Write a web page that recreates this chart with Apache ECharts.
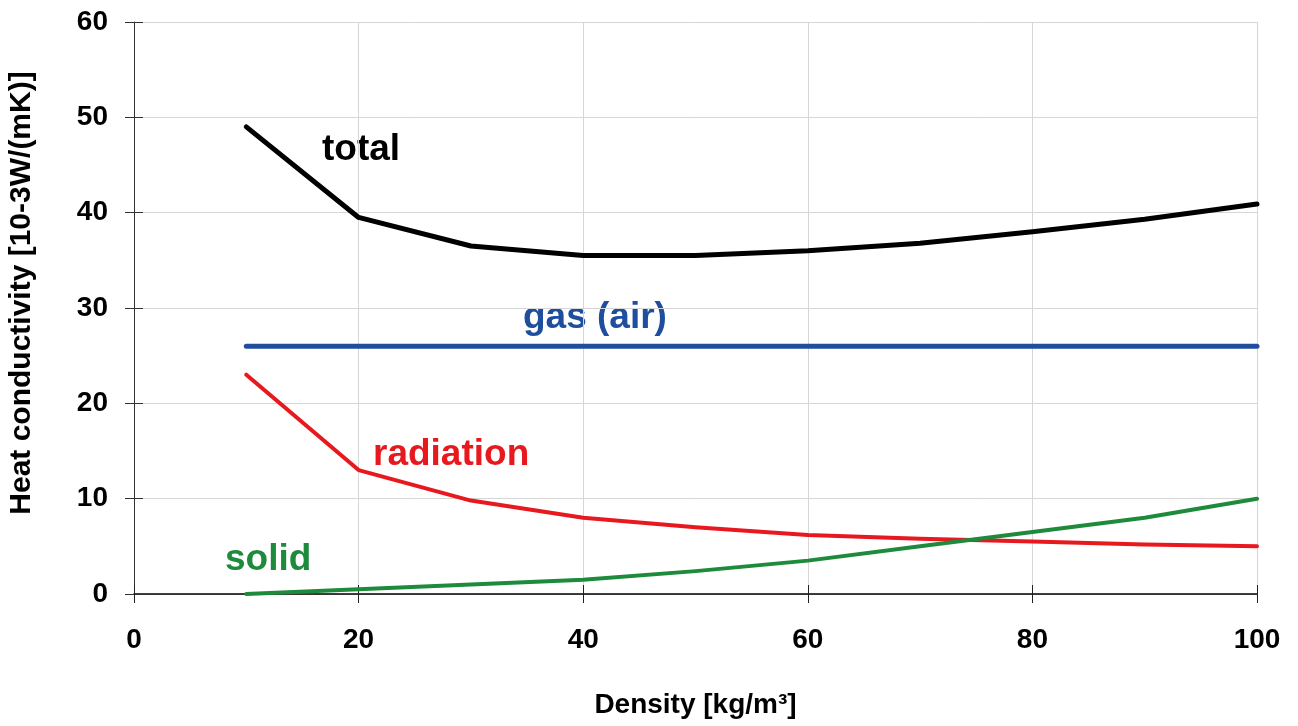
<!DOCTYPE html>
<html><head><meta charset="utf-8">
<script src="https://cdn.jsdelivr.net/npm/echarts@6/dist/echarts.min.js"></script>
<style>html,body{margin:0;padding:0;background:#fff}#c{width:1298px;height:726px}</style>
</head><body><div id="c"></div>
<script>
const density = [10, 20, 30, 40, 50, 60, 70, 80, 90, 100];
const total = [49, 39.5, 36.5, 35.5, 35.5, 36.0, 36.8, 38.0, 39.3, 40.9];
const gas = [26, 26, 26, 26, 26, 26, 26, 26, 26, 26];
const radiation = [23, 13.0, 9.8, 8.0, 7.0, 6.2, 5.8, 5.5, 5.2, 5.0];
const solid = [0, 0.5, 1.0, 1.5, 2.4, 3.5, 5.0, 6.5, 8.0, 10.0];
const xTitle = 'Density [kg/m³]';
const yTitle = 'Heat conductivity [10-3W/(mK)]';

const F = '"Liberation Sans", Arial, sans-serif';
const pair = (ys) => density.map((x, i) => [x, ys[i]]);
const mk = (name, ys, color, w) => ({
  name, type: 'line', data: pair(ys), showSymbol: false, smooth: false,
  xAxisIndex: 0, yAxisIndex: 0,
  lineStyle: { color, width: w, cap: 'round', join: 'round' }, itemStyle: { color }
});
const lbl = { fontFamily: F, fontWeight: 'bold', fontSize: 28, color: '#000' };
const chart = echarts.init(document.getElementById('c'));
chart.setOption({
  animation: false,
  backgroundColor: '#fff',
  grid: { left: 134, right: 41, top: 22, bottom: 132 },
  xAxis: [{
    type: 'value', min: 0, max: 100, interval: 20, position: 'bottom',
    name: xTitle, nameLocation: 'middle', nameGap: 97,
    nameTextStyle: { fontFamily: F, fontWeight: 'bold', fontSize: 28, color: '#000' },
    axisLine: { lineStyle: { color: '#000', width: 1.5 } },
    axisTick: { show: true, length: 9, lineStyle: { color: '#222', width: 1 } },
    axisLabel: Object.assign({ margin: 32 }, lbl),
    splitLine: { show: true, lineStyle: { color: '#d6d6d6', width: 1 } }
  }, {
    type: 'value', min: 0, max: 100, interval: 20, position: 'bottom', offset: 0,
    axisLine: { show: false },
    axisTick: { show: true, inside: true, length: 9, lineStyle: { color: '#222', width: 1 } },
    axisLabel: { show: false }, splitLine: { show: false }
  }],
  yAxis: [{
    type: 'value', min: 0, max: 60, interval: 10, position: 'left',
    axisLine: { show: true, lineStyle: { color: '#333', width: 1 } },
    axisTick: { show: true, length: 9, lineStyle: { color: '#333', width: 1 } },
    axisLabel: Object.assign({ margin: 26 }, lbl),
    splitLine: { show: true, lineStyle: { color: '#d6d6d6', width: 1 } }
  }, {
    type: 'value', min: 0, max: 60, interval: 10, position: 'left', offset: 0,
    axisLine: { show: false },
    axisTick: { show: true, inside: true, length: 9, lineStyle: { color: '#333', width: 1 } },
    axisLabel: { show: false }, splitLine: { show: false }
  }],
  series: [
    mk('total', total, '#000000', 5),
    mk('gas (air)', gas, '#1f4e9f', 5),
    mk('radiation', radiation, '#e8191e', 4),
    mk('solid', solid, '#1e8a3b', 4)
  ],
  graphic: [
    { type: 'text', x: 22, y: 293, rotation: Math.PI / 2,
      style: { text: yTitle, font: 'bold 30px ' + F, fill: '#000', align: 'center', verticalAlign: 'middle' } },
    { type: 'text', left: 322, top: 131, style: { text: 'total', font: 'bold 37px ' + F, fill: '#000' } },
    { type: 'text', left: 523, top: 299, style: { text: 'gas (air)', font: 'bold 37px ' + F, fill: '#1f4e9f' } },
    { type: 'text', left: 373, top: 436, style: { text: 'radiation', font: 'bold 37px ' + F, fill: '#e8191e' } },
    { type: 'text', left: 225, top: 541, style: { text: 'solid', font: 'bold 37px ' + F, fill: '#1e8a3b' } }
  ]
});
</script></body></html>
